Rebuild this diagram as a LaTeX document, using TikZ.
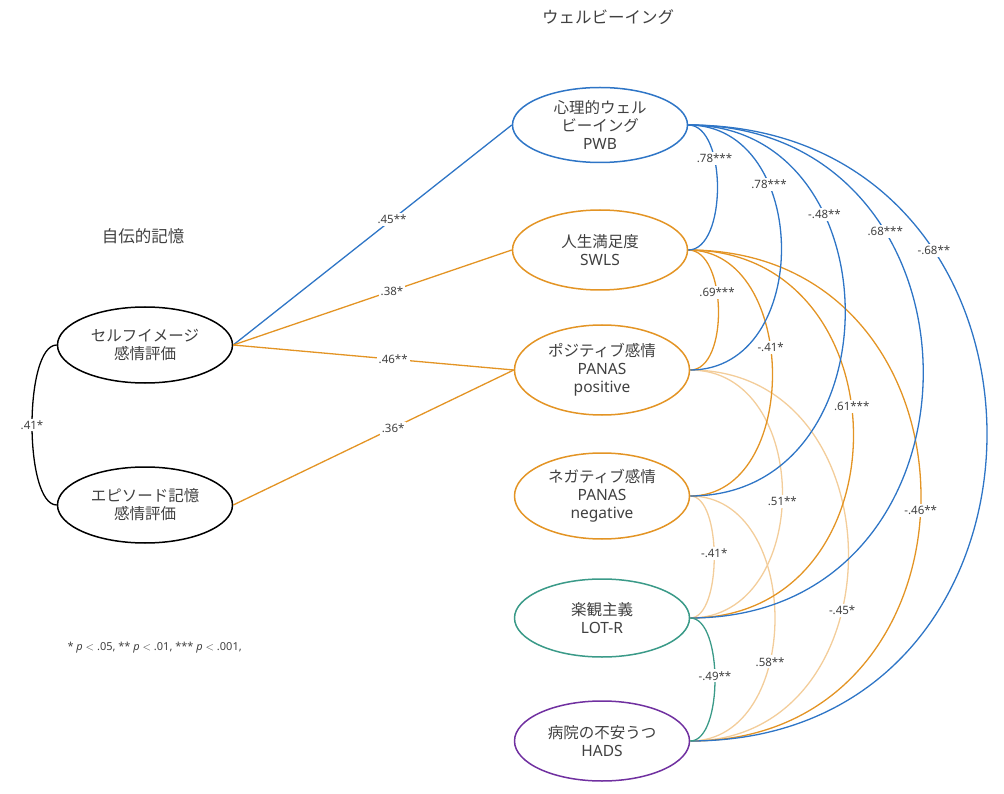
\documentclass[tikz,border=0pt]{standalone}
\usepackage{fontspec}
\setmainfont{Noto Sans CJK JP}
\newfontfamily\latin{Noto Sans}
\usepackage{tikz}
\usetikzlibrary{shapes.geometric}
\definecolor{cblue}{HTML}{2E75C6}
\definecolor{corange}{HTML}{E39424}
\definecolor{clight}{HTML}{F3CD9A}
\definecolor{cteal}{HTML}{3A9A88}
\definecolor{cpurple}{HTML}{7030A0}
\definecolor{ctext}{HTML}{404040}
\tikzstyle{oval} = [ellipse, minimum width=175pt, minimum height=78pt, inner sep=0pt, align=center, draw, line width=1.5pt, font=\fontsize{15.5}{18}\selectfont, text=ctext]
\tikzstyle{coef} = [fill=white, inner sep=2pt, font=\latin\fontsize{11.5}{13}\selectfont, text=ctext]
\tikzstyle{link} = [line width=1.3pt]
\begin{document}
\begin{tikzpicture}[x=1pt, y=-1pt]
        \useasboundingbox (0,0) rectangle (1004,794);

        % Titles
        \node[font=\fontsize{16.5}{19}\selectfont, text=ctext] (wb) at (608,17) {ウェルビーイング};
        \node[font=\fontsize{16.5}{19}\selectfont, text=ctext] (am) at (143,236) {自伝的記憶};
        \node[anchor=west, font=\latin\fontsize{11}{13}\selectfont, text=ctext] (note) at (64,648)
            {* \textit{p} $<$ .05, ** \textit{p} $<$ .01, *** \textit{p} $<$ .001,};

        % Left side
        \node[oval, draw=black, minimum height=76pt] (self) at (145,345) {セルフイメージ\\感情評価};
        \node[oval, draw=black, minimum height=76pt] (epi) at (145,505) {エピソード記憶\\感情評価};

        % Right side
        \node[oval, draw=cblue, minimum height=75pt] (pwb) at (600,125) {心理的ウェル\\ビーイング\\{\latin PWB}};
        \node[oval, draw=corange, minimum height=80pt] (swls) at (600,250) {人生満足度\\{\latin SWLS}};
        \node[oval, draw=corange, minimum height=90pt] (pos) at (602,370) {ポジティブ感情\\{\latin PANAS}\\{\latin positive}};
        \node[oval, draw=corange, minimum height=86pt] (neg) at (602,496) {ネガティブ感情\\{\latin PANAS}\\{\latin negative}};
        \node[oval, draw=cteal, minimum height=78pt] (lot) at (602,618) {楽観主義\\{\latin LOT-R}};
        \node[oval, draw=cpurple, minimum height=80pt] (hads) at (602,741) {病院の不安うつ\\{\latin HADS}};

        % Paths
        \draw[link, cblue] (self.east) -- (pwb.west) node[coef, pos=0.57] {.45**};
        \draw[link, corange] (self.east) -- (swls.west) node[coef, pos=0.57] {.38*};
        \draw[link, corange] (self.east) -- (pos.west) node[coef, pos=0.57] {.46**};
        \draw[link, corange] (epi.east) -- (pos.west) node[coef, pos=0.57] {.36*};

        % Left correlation
        \draw[link, black] (self.west) .. controls +(-33,0) and +(-33,0) .. (epi.west) node[coef, midway] {.41*};

        % Correlations (light)
        \draw[link, clight] (pos.east) .. controls +(123,0) and +(123,0) .. (lot.east) node[coef, pos=0.52] {.51**};
        \draw[link, clight] (pos.east) .. controls +(211,0) and +(211,0) .. (hads.east) node[coef, pos=0.6] {-.45*};
        \draw[link, clight] (neg.east) .. controls +(32,0) and +(32,0) .. (lot.east) node[coef, pos=0.48] {-.41*};
        \draw[link, clight] (neg.east) .. controls +(113,0) and +(113,0) .. (hads.east) node[coef, pos=0.62] {.58**};

        % Correlations (SWLS)
        \draw[link, corange] (swls.east) .. controls +(39,0) and +(39,0) .. (pos.east) node[coef, pos=0.4] {.69***};
        \draw[link, corange] (swls.east) .. controls +(111,0) and +(111,0) .. (neg.east) node[coef, pos=0.43] {-.41*};
        \draw[link, corange] (swls.east) .. controls +(219,0) and +(219,0) .. (lot.east) node[coef, pos=0.45] {.61***};
        \draw[link, corange] (swls.east) .. controls +(309,0) and +(309,0) .. (hads.east) node[coef, pos=0.52] {-.46**};

        % Correlations (PWB)
        \draw[link, cblue] (pwb.east) .. controls +(39,0) and +(39,0) .. (swls.east) node[coef, pos=0.34] {.78***};
        \draw[link, cblue] (pwb.east) .. controls +(123,0) and +(123,0) .. (pos.east) node[coef, pos=0.32] {.78***};
        \draw[link, cblue] (pwb.east) .. controls +(208,0) and +(208,0) .. (neg.east) node[coef, pos=0.32] {-.48**};
        \draw[link, cblue] (pwb.east) .. controls +(312,0) and +(312,0) .. (lot.east) node[coef, pos=0.3] {.68***};
        \draw[link, cblue] (pwb.east) .. controls +(397,0) and +(397,0) .. (hads.east) node[coef, pos=0.29] {-.68**};

        % LOT-HADS
        \draw[link, cteal] (lot.east) .. controls +(33,0) and +(33,0) .. (hads.east) node[coef, pos=0.48] {-.49**};
    \end{tikzpicture}
\end{document}
